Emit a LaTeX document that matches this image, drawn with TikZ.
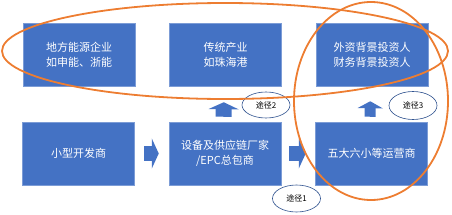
\documentclass[tikz,border=0pt]{standalone}
\usepackage{fontspec}
\setmainfont{Noto Sans CJK SC}
\usetikzlibrary{arrows.meta,shapes.geometric,calc}
\definecolor{boxblue}{HTML}{4472C4}
\definecolor{edgeblue}{HTML}{2F528F}
\definecolor{ringorange}{HTML}{ED7D31}
\begin{document}
\begin{tikzpicture}[x=1pt,y=-1pt,
  box/.style={fill=boxblue,draw=boxblue!70!white,line width=0.5pt,minimum width=112pt,minimum height=63pt,inner sep=0pt,align=center,text=white,font=\fontsize{11}{15}\selectfont},
  tag/.style={ellipse,draw=edgeblue,line width=0.6pt,fill=white,minimum width=48pt,minimum height=27pt,inner sep=0pt,font=\fontsize{8}{10}\selectfont},
  blockarrow/.style={draw=boxblue,line width=15pt,-{Triangle[width=30pt,length=7pt]}},
  ring/.style={draw=ringorange,line width=1.8pt}]
\useasboundingbox (0,0) rectangle (452,214);
% top row
\node[box] (tl) at (79,54.5) {地方能源企业\\如申能、浙能};
\node[box] (tm) at (225.5,54.5) {传统产业\\如珠海港};
\node[box] (tr) at (372,54.5) {外资背景投资人\\财务背景投资人};
% bottom row
\node[box] (bl) at (78.5,153.5) {小型开发商};
\node[box] (bm) at (225,153.5) {设备及供应链厂家\\/EPC总包商};
\node[box] (br) at (371.5,153.5) {五大六小等运营商};
% block arrows
\draw[blockarrow,shorten <=9.5pt,shorten >=10pt] (bl) -- (bm);
\draw[blockarrow,shorten <=8pt,shorten >=9.5pt] (bm) -- (br);
\draw[blockarrow,line width=16pt,shorten <=5pt,shorten >=16pt] ($(bm.north)+(-1.5,0)$) -- ($(tm.south)+(-1.5,0)$);
\draw[blockarrow,line width=11pt,-{Triangle[width=25pt,length=7pt]},shorten <=5pt,shorten >=15pt] ($(br.north)+(-1.5,0)$) -- ($(tr.south)+(-1.5,0)$);
% path labels
\node[tag] (t1) at (296.5,198.5) {途径1};
\node[tag,minimum height=26pt] (t2) at (266,105) {途径2};
\node[tag,minimum height=28pt] (t3) at (413,105.5) {途径3};
% orange rings
\draw[ring] (225,51) ellipse [x radius=223, y radius=48];
\draw[ring] (371,101) ellipse [x radius=77, y radius=99];
\end{tikzpicture}
\end{document}
